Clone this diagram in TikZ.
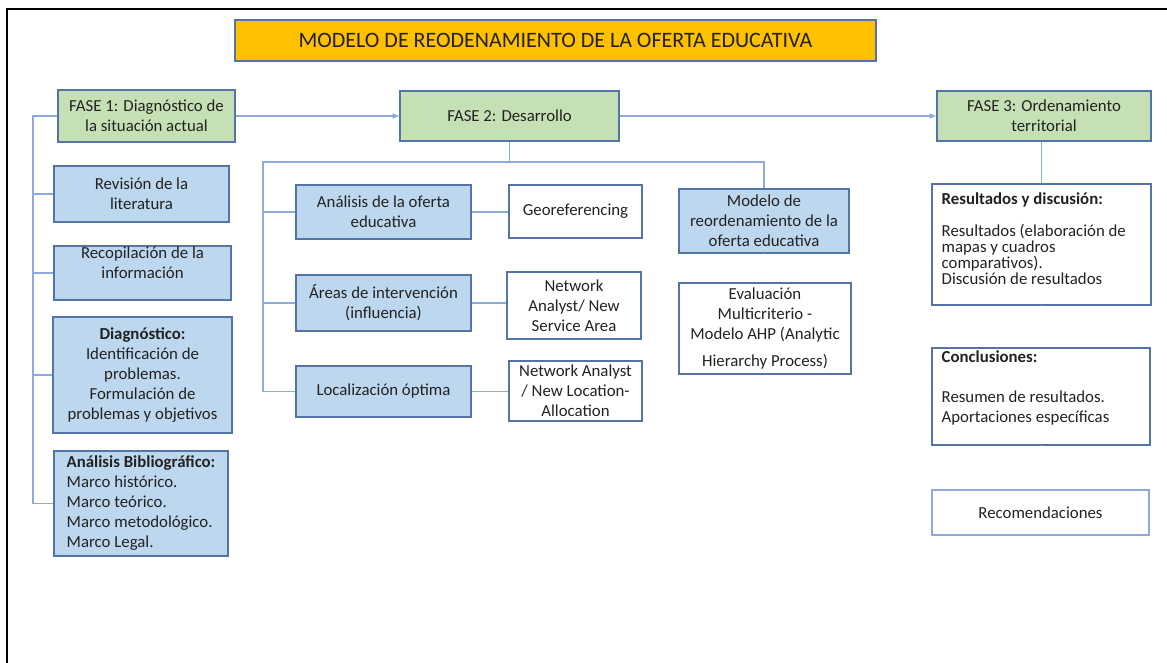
\documentclass[tikz,border=0pt]{standalone}
\usepackage{fontspec}
\setmainfont{Carlito}
\usetikzlibrary{arrows.meta,calc}
\definecolor{fgreen}{HTML}{C5E0B4}
\definecolor{fblue}{HTML}{BDD7EE}
\definecolor{forange}{HTML}{FFC000}
\definecolor{bline}{HTML}{5474A6}
\definecolor{cline}{HTML}{8EAADB}
\definecolor{txt}{HTML}{222222}
% \bx{style}{name}{x1}{y1}{x2}{y2}{text}  (pixel coordinates of the box)
\newcommand\bx[7]{%
  \pgfmathsetmacro\bxw{(#5-#3)*0.75}%
  \pgfmathsetmacro\bxh{(#6-#4)*0.75}%
  \node[#1, minimum width=\bxw pt, minimum height=\bxh pt] (#2) at ({(#3+#5)/2},{(#4+#6)/2}) {#7};}
\begin{document}
\begin{tikzpicture}[x=0.75pt,y=-0.75pt,
  base/.style={draw=bline, line width=0.9pt, inner sep=0pt, align=center, text=txt,
    font=\fontsize{12.6}{15}\selectfont},
  phasebox/.style={base, fill=fgreen},
  subbox/.style={base, fill=fblue},
  toolbox/.style={base, fill=white},
  titlebox/.style={base, fill=forange, font=\fontsize{16.5}{19}\selectfont},
  boxtext/.style={inner sep=0pt, text=txt, font=\fontsize{12.6}{15}\selectfont},
  conn/.style={draw=cline, line width=0.8pt},
  tip/.style={-{Latex[length=5pt,width=4.5pt]}, cline}
]
\useasboundingbox (0,0) rectangle (1167,663);
% outer frame (top and left edges only)
\draw[black, line width=1.1pt] (7,663) -- (7,9) -- (1167,9);

% title
\bx{titlebox}{title}{235}{20}{876}{61}{MODELO DE REODENAMIENTO DE LA OFERTA EDUCATIVA}

% phases
\bx{phasebox}{f1}{58}{90}{235}{142}{FASE 1: Diagnóstico de\\la situación actual}
\bx{phasebox}{f2}{400}{91}{619}{141}{FASE 2: Desarrollo}
\bx{phasebox}{f3}{937}{91}{1151}{141}{FASE 3: Ordenamiento\\territorial}

% phase 1 column
\bx{subbox}{rev}{54}{166}{229}{222}{Revisión de la\\literatura}
\bx{subbox}{recop}{54}{246}{231}{300}{}
\node[boxtext, align=center] at ($(recop.center)+(0,-10)$) {Recopilación de la\\información};
\bx{subbox}{diag}{53}{317}{232}{433}{\textbf{Diagnóstico:}\\Identificación de\\problemas.\\Formulación de\\problemas y objetivos}
\bx{subbox, align=left}{bib}{54}{451}{228}{556}{\textbf{Análisis Bibliográfico:}\\Marco histórico.\\Marco teórico.\\Marco metodológico.\\Marco Legal.}

% phase 2 tree
\bx{subbox}{ana}{296}{185}{471}{239}{Análisis de la oferta\\educativa}
\bx{subbox}{areas}{296}{275}{471}{331}{Áreas de intervención\\(influencia)}
\bx{subbox}{loc}{296}{366}{471}{417}{Localización óptima}
\bx{toolbox}{geo}{509}{185}{642}{238}{Georeferencing}
\bx{toolbox}{nsa}{507}{272}{641}{339}{Network\\Analyst/ New\\Service Area}
\bx{toolbox}{nla}{509}{361}{642}{421}{Network Analyst\\/ New Location-\\Allocation}
\bx{subbox}{mod}{679}{189}{849}{253}{Modelo de\\reordenamiento de la\\oferta educativa}
\bx{toolbox}{eval}{679}{283}{851}{374}{Evaluación\\Multicriterio -\\Modelo AHP (Analytic\\[5pt]Hierarchy Process)}

% phase 3 column
\bx{toolbox}{res}{932}{184}{1151}{305}{}
\node[boxtext, anchor=north west, align=left, font=\fontsize{12.6}{12}\selectfont] at ($(res.north west)+(10,9)$)
  {\textbf{Resultados y discusión:}\\[12pt]Resultados (elaboración de\\mapas y cuadros\\comparativos).\\Discusión de resultados};
\bx{toolbox}{conc}{932}{348}{1150}{445}{}
\node[boxtext, anchor=north west, align=left] at ($(conc.north west)+(10,3)$)
  {\textbf{Conclusiones:}\\[15pt]Resumen de resultados.\\Aportaciones específicas};
\bx{toolbox, draw=cline, line width=1.4pt}{reco}{932}{490}{1149}{535}{Recomendaciones}

% connectors
\draw[conn, tip] (f1.east) -- (f2.west);
\draw[conn, tip] (f2.east) -- (f3.west);

\coordinate (t1) at (33,116);
\draw[conn] (f1.west) -- (t1) -- (t1 |- bib.west) -- (bib.west);
\draw[conn] (t1 |- rev.west) -- (rev.west);
\draw[conn] (t1 |- recop.west) -- (recop.west);
\draw[conn] (t1 |- diag.west) -- (diag.west);

\coordinate (y2) at (263,162);
\draw[conn] (f2.south) -- (f2.south |- y2);
\draw[conn] (y2 |- loc.west) -- (y2) -- (mod.north |- y2) -- (mod.north);
\draw[conn] (y2 |- loc.west) -- (loc.west);
\draw[conn] (y2 |- ana.west) -- (ana.west);
\draw[conn] (y2 |- areas.west) -- (areas.west);
\draw[conn] (ana.east) -- (ana.east -| geo.west);
\draw[conn] (areas.east) -- (areas.east -| nsa.west);
\draw[conn] (loc.east) -- (loc.east -| nla.west);
\draw[conn] (mod.south) -- (mod.south -| eval.north);

\draw[conn] (res.north |- f3.south) -- (res.north);
\draw[conn] (res.south) -- (res.south -| conc.north);
\draw[conn] (conc.south) -- (conc.south -| reco.north);
\end{tikzpicture}
\end{document}
